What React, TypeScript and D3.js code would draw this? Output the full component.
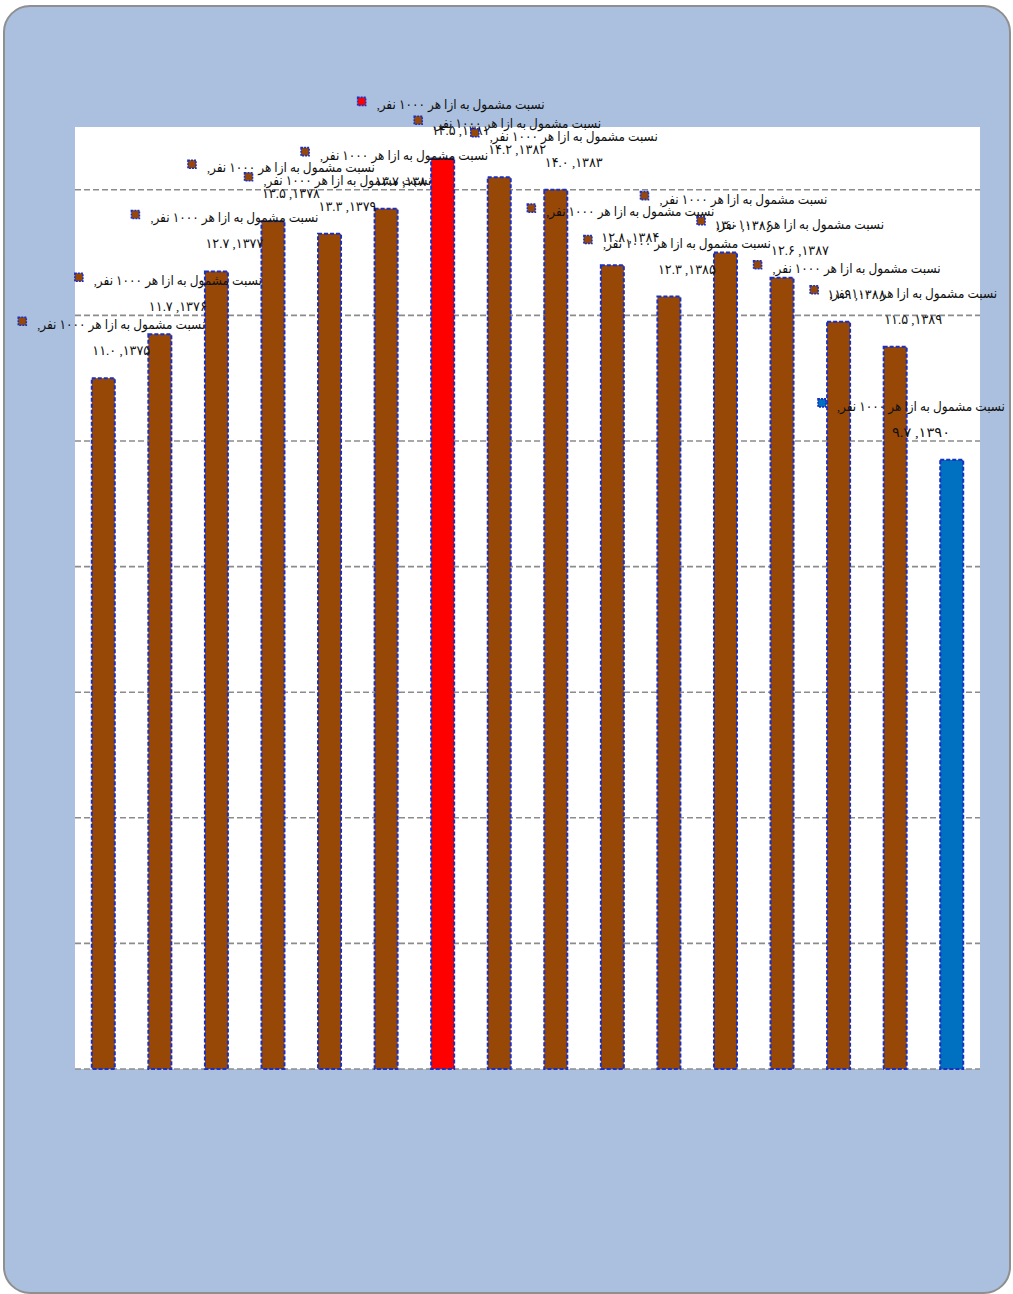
import React, { useEffect } from "react";
import * as d3 from "d3";

const years = ["1375","1376","1377","1378","1379","1380","1381","1382","1383","1384","1385","1386","1387","1388","1389","1390"];
const values = [11.0, 11.7, 12.7, 13.5, 13.3, 13.7, 14.5, 14.2, 14.0, 12.8, 12.3, 13.0, 12.6, 11.9, 11.5, 9.7];
const seriesName = "نسبت مشمول به ازا هر ۱۰۰۰ نفر";
const yTicks = [0, 2, 4, 6, 8, 10, 12, 14];

const BROWN = "#974806";
const RED = "#ff0000";
const BLUE = "#0070c0";

const toFa = (s: string) => s.replace(/[0-9]/g, (d) => "۰۱۲۳۴۵۶۷۸۹"[+d]);

function barColor(i: number) {
  if (years[i] === "1381") return RED;
  if (years[i] === "1390") return BLUE;
  return BROWN;
}

export default function App() {
  useEffect(() => {
    document.body.style.margin = "0";
  }, []);

  const W = 1013, H = 1294;
  const plot = { left: 75, right: 980, top: 127, bottom: 1069 };
  const x = d3.scaleBand<string>().domain(years).range([plot.left, plot.right]);
  const y = d3.scaleLinear().domain([0, 15]).range([plot.bottom, plot.top]);
  const step = x.step();
  const bw = 23;

  return (
    <svg width={W} height={H} style={{ position: "absolute", left: 0, top: 0 }} fontFamily="'Liberation Serif', 'DejaVu Sans', serif">
      <rect x={4} y={6} width={1006} height={1287} rx={26} ry={26} fill="#abc0df" stroke="#8f8f8f" strokeWidth={2} />
      <rect x={plot.left} y={plot.top} width={plot.right - plot.left} height={plot.bottom - plot.top} fill="#ffffff" />
      {yTicks.map((t) => (
        <line key={t} x1={plot.left} x2={plot.right} y1={y(t)} y2={y(t)} stroke="#8c8c8c" strokeWidth={1.6} strokeDasharray="6,3" />
      ))}
      {years.map((yr, i) => {
        const cx = (x(yr) as number) + step / 2;
        const top = y(values[i]);
        return (
          <rect key={yr} x={cx - bw / 2} y={top} width={bw} height={plot.bottom - top}
            fill={barColor(i)} stroke="#1a30c0" strokeWidth={2} strokeDasharray="4,2" />
        );
      })}
      {years.map((yr, i) => {
        const cx = (x(yr) as number) + step / 2;
        const top = y(values[i]);
        const bx = Math.min(cx + 18, 921);
        const line2 = toFa(yr) + ", " + toFa(values[i].toFixed(1));
        return (
          <g key={"l" + yr}>
            <rect x={bx - 103} y={top - 61} width={8} height={8} fill={barColor(i)} stroke="#1a30c0" strokeWidth={1.6} strokeDasharray="2,1" />
            <text x={bx} y={top - 49} textAnchor="middle" direction="rtl" fontSize={13.5} fill="#111"
              textLength={168} lengthAdjust="spacingAndGlyphs" style={{ direction: "rtl", unicodeBidi: "embed" }}>
              {seriesName + ","}
            </text>
            <text x={bx} y={top - 23} textAnchor="middle" direction="rtl" fontSize={13.5} fill="#111"
              textLength={58} lengthAdjust="spacingAndGlyphs" style={{ direction: "rtl", unicodeBidi: "embed" }}>
              {line2}
            </text>
          </g>
        );
      })}
    </svg>
  );
}
